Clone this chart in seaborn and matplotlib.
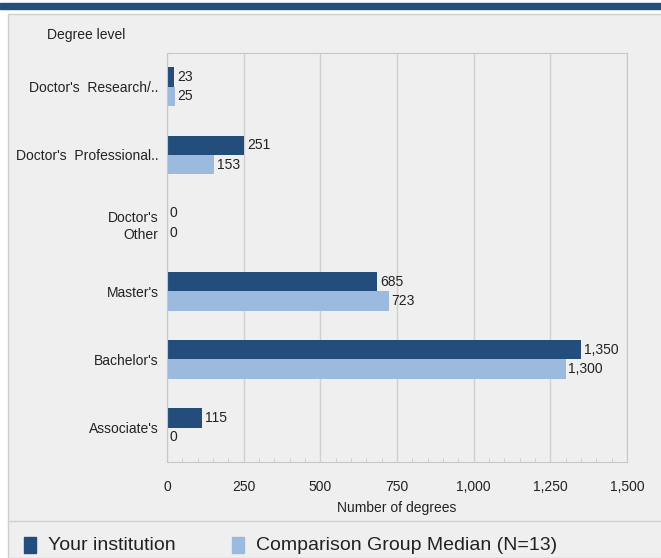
#!/usr/bin/env python3
"""Degrees awarded by level: institution vs comparison group median"""

import pandas as pd

import matplotlib
matplotlib.use('agg')
import matplotlib.pyplot as plt
from matplotlib.patches import Rectangle
from matplotlib.ticker import MultipleLocator

import seaborn as sns

LEVELS = ["Doctor's  Research/..", "Doctor's  Professional..", "Doctor's\nOther",
          "Master's", "Bachelor's", "Associate's"]
YOUR_INST = [23, 251, 0, 685, 1350, 115]
COMP_MEDIAN = [25, 153, 0, 723, 1300, 0]
SERIES = ['Your institution', 'Comparison Group Median (N=13)']
XTICKS = [0, 250, 500, 750, 1000, 1250, 1500]

DARK = '#234d7a'
LIGHT = '#9bbade'
PANEL = '#efefef'
TXT = '#222222'


def main():
    """Build the figure"""
    dfrm = pd.DataFrame({
        'level': LEVELS * 2,
        'value': YOUR_INST + COMP_MEDIAN,
        'series': [SERIES[0]] * len(LEVELS) + [SERIES[1]] * len(LEVELS)})

    plt.rcParams['font.family'] = ['Liberation Sans', 'DejaVu Sans']
    fig = plt.figure(figsize=(6.61, 5.58), dpi=100, facecolor='white')
    _background(fig)

    axes = fig.add_axes([167 / 661, 1 - 461.7 / 558, 460 / 661, 409 / 558], zorder=2)
    sns.barplot(data=dfrm, y='level', x='value', hue='series', orient='h',
                palette=[DARK, LIGHT], width=0.57, saturation=1,
                order=LEVELS, hue_order=SERIES, legend=False, ax=axes)
    for cont in axes.containers:
        axes.bar_label(cont, labels=['{N:,}'.format(N=int(v)) for v in cont.datavalues],
                       padding=2, fontsize=10, color=TXT)

    axes.set_facecolor(PANEL)
    axes.set_xlim(0, 1500)
    axes.set_xticks(XTICKS)
    axes.set_xticklabels(['{N:,}'.format(N=t) for t in XTICKS], fontsize=10, color=TXT)
    axes.xaxis.set_minor_locator(MultipleLocator(50))
    axes.tick_params(axis='y', labelsize=10, labelcolor=TXT, length=0, pad=6)
    axes.tick_params(axis='x', which='major', length=0, pad=13)
    axes.tick_params(axis='x', which='minor', length=3, direction='in', color='#cccccc')
    for lbl in axes.get_yticklabels():
        lbl.set_linespacing(1.35)
    axes.grid(axis='x', color='#d0d0d0', lw=1)
    axes.set_axisbelow(True)
    for spine in axes.spines.values():
        spine.set_color('#c8c8c8')
    axes.set_ylabel('')
    axes.set_xlabel('Number of degrees', fontsize=10, color=TXT, labelpad=5)
    fig.text(47 / 661, 1 - 35 / 558, 'Degree level', fontsize=10, color=TXT, va='center')

    _legend(fig)
    plt.savefig('out.png', dpi=100, facecolor=fig.get_facecolor())


def _background(fig):
    """Gray panel, top band and separator"""
    wid, hgt = 661.0, 558.0
    fig.patches.append(Rectangle((0, 1 - 9 / hgt), 1, 6 / hgt, transform=fig.transFigure,
                                 color='#23507d', zorder=-2))
    fig.patches.append(Rectangle((8 / wid, 0), 1, 1 - 14 / hgt, transform=fig.transFigure,
                                 facecolor=PANEL, edgecolor='#cfcfcf', lw=1, zorder=-2))
    fig.add_artist(plt.Line2D([8 / wid, 1], [1 - 521 / hgt] * 2, transform=fig.transFigure,
                              color='#d0d0d0', lw=1, zorder=-1))


def _legend(fig):
    """Legend row under the chart"""
    ypos = 1 - 545 / 558.0
    for xpos, color, label in [(24, DARK, SERIES[0]), (232, LIGHT, SERIES[1])]:
        fig.patches.append(Rectangle((xpos / 661.0, ypos - 8 / 558.0), 12 / 661.0, 16 / 558.0,
                                     transform=fig.transFigure, color=color, zorder=3))
        fig.text((xpos + 24) / 661.0, ypos, label, fontsize=14, color=TXT, va='center')


if __name__ == '__main__':
    main()
